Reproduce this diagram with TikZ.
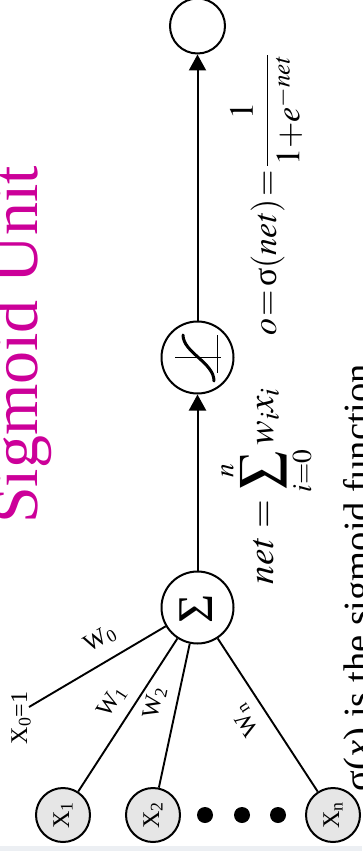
\documentclass[tikz,border=0pt]{standalone}
\usepackage{mathptmx}
\usepackage{fontspec}
\setmainfont{Liberation Serif}
\usetikzlibrary{arrows.meta}
\definecolor{titlemag}{RGB}{204,0,153}
\definecolor{ingray}{RGB}{230,230,230}
\definecolor{edgeband}{RGB}{236,239,243}
\begin{document}
\begin{tikzpicture}[x=1pt,y=-1pt,
  unitc/.style={circle,draw,line width=2pt,inner sep=0pt,minimum size=#1},
  inputc/.style={unitc=54pt,fill=ingray},
  flow/.style={line width=2pt,-{Triangle[length=16pt,width=17pt]}},
  wire/.style={line width=1.9pt},
  wlabel/.style={font=\fontsize{24}{26}\selectfont,inner sep=0pt},
  xlabel/.style={font=\fontsize{24}{26}\selectfont,inner sep=0pt,rotate=90},
  bigmath/.style={inner sep=0pt,rotate=90,anchor=base},
  dotc/.style={circle,fill=black,inner sep=0pt,minimum size=16pt}
]
\useasboundingbox (0,0) rectangle (362,851);
\fill[edgeband] (0,846) rectangle (362,851);

% title
\node[rotate=90,anchor=base,inner sep=0pt,text=titlemag,font=\fontsize{66}{70}\selectfont] (title) at (37,345) {Sigmoid Unit};

% units
\node[unitc=55pt] (out) at (197.5,26) {};
\node[unitc=72pt] (sig) at (197.5,357.5) {};
\node[unitc=72pt] (sum) at (197.5,607.5) {};
\node[rotate=90,inner sep=0pt,font=\fontsize{50}{50}\selectfont] (sigma) at (196,609) {Σ};

% sigmoid icon
\begin{scope}[shift={(sig.center)}]
  \draw[line width=1pt] (-22.5,-0.5) -- (23.5,-0.5);
  \draw[line width=1pt] (19.5,-22.5) -- (19.5,15);
  \draw[line width=3pt,line cap=round] (-14.5,-22.5) .. controls (-14.5,-5) and (16.5,5) .. (16.5,23.5);
\end{scope}

% inputs
\node[inputc] (x1) at (63,815) {};
\node[inputc] (x2) at (153,815) {};
\node[inputc] (xn) at (333,815) {};
\node[xlabel] at (x1) {X\textsubscript{1}};
\node[xlabel] at (x2) {X\textsubscript{2}};
\node[xlabel] at (xn) {X\textsubscript{n}};
\node[dotc] (d1) at (205,815) {};
\node[dotc] (d2) at (242,815) {};
\node[dotc] (d3) at (278,815) {};
\coordinate (x0) at (29,707);
\node[xlabel] (x0lab) at (21,718) {X\textsubscript{0}=1};

% connectors
\draw[wire] (x0) -- (sum);
\draw[wire] (x1) -- (sum);
\draw[wire] (x2) -- (sum);
\draw[wire] (xn) -- (sum);
\draw[flow] (sum) -- (sig);
\draw[flow] (sig) -- (out);

% weight labels
\node[wlabel,rotate=30] (w0) at (100,639) {W\textsubscript{0}};
\node[wlabel,rotate=57] (w1) at (112,702) {W\textsubscript{1}};
\node[wlabel,rotate=78] (w2) at (155,703) {W\textsubscript{2}};
\node[wlabel,rotate=123] (wn) at (246,720) {W\textsubscript{n}};

% formulas
\node[bigmath,font=\fontsize{37}{40}\selectfont] (netf) at (273,486) {$\displaystyle net=\sum_{i=0}^{n} w_i x_i$};
\node[bigmath,font=\fontsize{34}{40}\selectfont] (outf) at (276,195) {\thickmuskip=1.5mu\medmuskip=0mu $\displaystyle o=\textrm{σ}(net)=\frac{1}{1+e^{-net}}$};
\node[rotate=90,anchor=base,inner sep=0pt,font=\fontsize{38.5}{40}\selectfont] (note) at (370,577.5) {\textrm{σ}(\textit{x}) is the sigmoid function};
\end{tikzpicture}
\end{document}
